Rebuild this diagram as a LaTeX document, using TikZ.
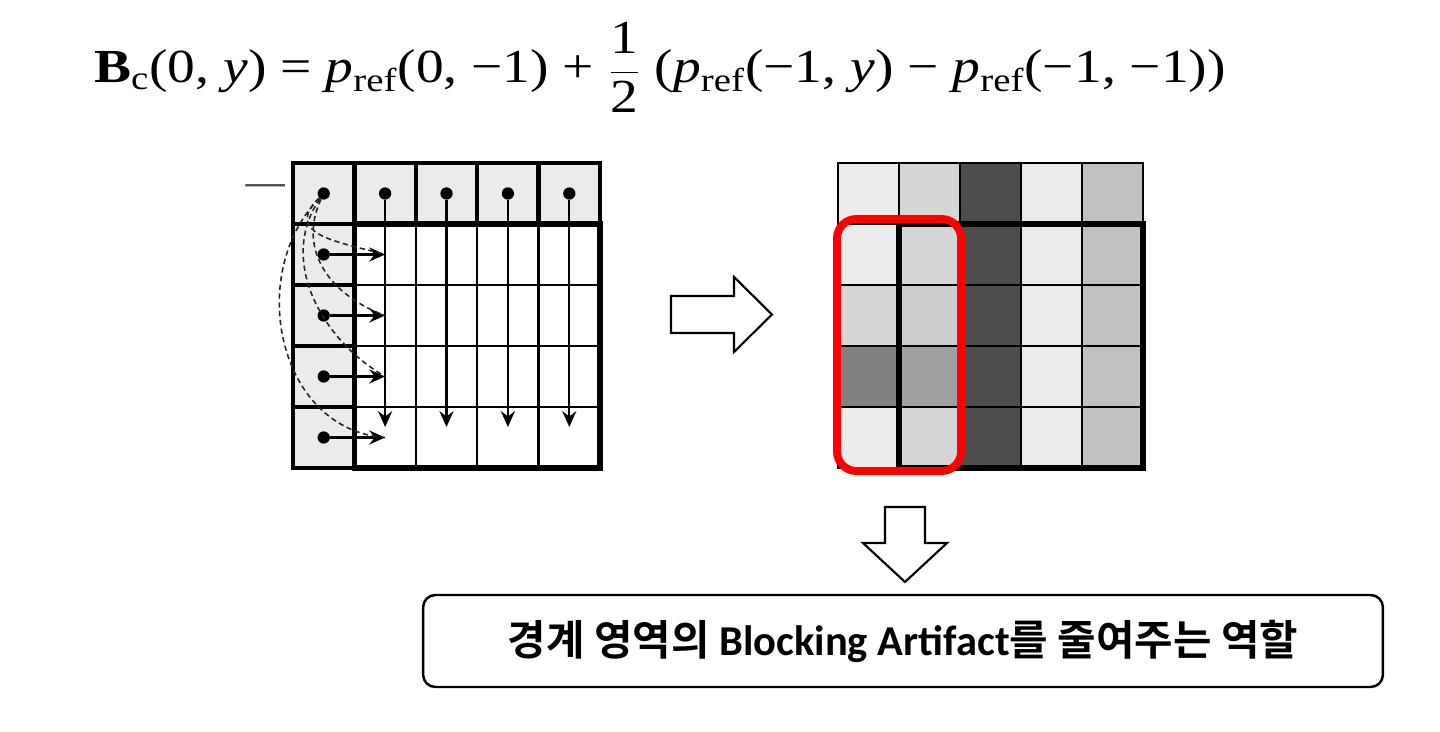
\documentclass[tikz,border=0pt]{standalone}
\usepackage{fontspec}
\setmainfont{Liberation Serif}
\newfontfamily\hangul{Noto Sans CJK KR}[BoldFont={Noto Sans CJK KR Bold}]
\newfontfamily\calibri{Carlito}
\usetikzlibrary{arrows.meta}
\definecolor{pixA}{HTML}{EBEBEB}
\definecolor{pixB}{HTML}{D6D6D6}
\definecolor{pixC}{HTML}{C0C0C0}
\definecolor{pixD}{HTML}{4D4D4D}
\definecolor{pixE}{HTML}{CDCDCD}
\definecolor{pixF}{HTML}{808080}
\definecolor{pixG}{HTML}{A0A0A0}

\begin{document}
\begin{tikzpicture}[x=0.02cm, y=0.02cm,
  dot/.style={circle, fill=black, inner sep=0pt, minimum size=7pt},
  refcell/.style={draw, line width=2.6pt, fill=pixA},
  cellline/.style={line width=1.3pt},
  blockline/.style={draw, line width=3.2pt},
  arr/.style={-{Stealth[length=9pt, width=8pt, inset=3pt]}, line width=1.3pt},
  curve/.style={densely dashed, line width=0.9pt, black!85},
  blockarrow/.style={draw, line width=1.2pt, fill=white}]
  \useasboundingbox (0,0) rectangle (1440,731);

  \node[anchor=base] (eq) at (660,648) {\scalebox{1.17}[1]{\fontsize{27}{32}\selectfont
    \textbf{B}\textsubscript{c}(0, \textit{y}) = \textit{p}\textsubscript{ref}(0, −1) + $\displaystyle\frac{\textrm{1}}{\textrm{2}}$ (\textit{p}\textsubscript{ref}(−1, \textit{y}) − \textit{p}\textsubscript{ref}(−1, −1))}};

  % Left grid: reference pixels and predicted block
  \foreach \i in {0,...,4}
    \draw[refcell] ({293+61.4*\i},568) rectangle ++(61.4,-61);
  \foreach \j in {1,...,4}
    \draw[refcell] (293,{568-61*\j}) rectangle ++(61.4,-61);
  \foreach \k in {1,2,3} {
    \draw[cellline] ({354.4+61.4*\k},507) -- ++(0,-244);
    \draw[cellline] (354.4,{507-61*\k}) -- ++(245.6,0);
  }
  \draw[blockline] (354.4,507) rectangle (600,263);
  \node[font=\fontsize{27}{32}\selectfont, text=black!70] (minus) at (266,538) {\scalebox{1.8}[1]{−}};

  % Dots
  \foreach \i in {0,...,4}
    \node[dot] (t\i) at ({323.7+61.4*\i},537.5) {};
  \foreach \j in {1,...,4}
    \node[dot] (l\j) at (323.7,{537.5-61*\j}) {};

  % Vertical copies
  \foreach \i in {1,...,4} {
    \coordinate (v\i) at ({323.7+61.4*\i},304);
    \draw[arr] (t\i) -- (v\i);
  }
  % Horizontal corrections
  \foreach \j in {1,...,4} {
    \coordinate (h\j) at (385.1,{537.5-61*\j});
    \draw[arr] (l\j) -- (h\j);
  }
  % Corner differences
  \draw[curve] (t0) to[out=225, in=165, looseness=1.5] (h1);
  \draw[curve] (t0) to[out=245, in=160, looseness=1.1] (h2);
  \draw[curve] (t0) to[out=235, in=150] (h3);
  \draw[curve] (t0) to[out=226, in=176, looseness=1.1] (h4);

  % Arrow to result
  \draw[blockarrow] (671,435) -- (734,435) -- (734,454) -- (772,416.5) -- (734,379) -- (734,398) -- (671,398) -- cycle;

  % Right grid: filtered block
  \foreach \row [count=\j from 0] in {{A,B,D,A,C},{A,B,D,A,C},{B,E,D,A,C},{F,G,D,A,C},{A,B,D,A,C}}
    \foreach \c [count=\i from 0] in \row
      \draw[cellline, fill=pix\c] ({838+61*\i},{568-61*\j}) rectangle ++(61,-61);
  \draw[blockline] (899,507) rectangle (1143,263);
  \draw[red, line width=4.5pt, rounded corners=11pt] (837,512) rectangle (961,260);

  % Arrow to role
  \draw[blockarrow] (885,224) -- (925,224) -- (925,188) -- (947,188) -- (905,149) -- (863,188) -- (885,188) -- cycle;

  \node[draw, line width=1.4pt, rounded corners=7pt, minimum width=19.2cm, minimum height=1.84cm] (role) at (903,90)
    {\hangul\bfseries\fontsize{23.8}{28}\selectfont 경계 영역의 {\calibri\fontsize{24.2}{28}\selectfont Blocking Artifact}를 줄여주는 역할};
\end{tikzpicture}
\end{document}
